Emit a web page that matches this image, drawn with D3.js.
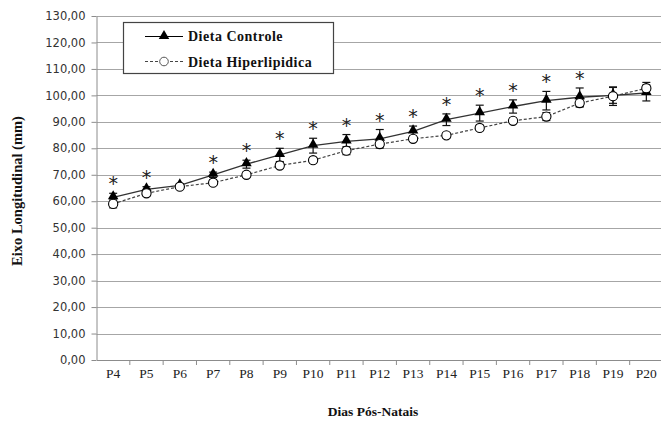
<!DOCTYPE html>
<html>
<head>
<meta charset="utf-8">
<script src="https://cdn.jsdelivr.net/npm/d3@7/dist/d3.min.js"></script>
<style>
  body { margin: 0; background: #fff; }
  svg { display: block; }
</style>
</head>
<body>
<svg></svg>
<script>
var dias = ["P4", "P5", "P6", "P7", "P8", "P9", "P10", "P11", "P12", "P13", "P14", "P15", "P16", "P17", "P18", "P19", "P20"];
var controle = [61.5, 64.5, 66, 70, 74, 77.5, 81, 82.6, 83.6, 86.4, 90.8, 93.3, 95.8, 98, 99.3, 100, 100.9];
var controleErr = [1.5, 1, 0.5, 1, 1.5, 2.5, 2.8, 2.6, 3.5, 2, 2.2, 3, 2.5, 3.5, 3.5, 3, 3];
var hiper = [59, 63, 65.5, 67, 70, 73.5, 75.5, 79.1, 81.6, 83.6, 84.9, 87.7, 90.4, 92, 97.1, 99.7, 102.7];
var hiperErr = [1.5, 1, 0.5, 1, 1, 1, 1, 1.5, 1, 1, 1, 1, 1, 1.5, 1.5, 3.5, 2.2];
var significativo = [true, true, false, true, true, true, true, true, true, true, true, true, true, true, true, false, false];
var yTicks = [0, 10, 20, 30, 40, 50, 60, 70, 80, 90, 100, 110, 120, 130];

var svgWidth = 661, svgHeight = 423;
var plotLeft = 96.5, plotRight = 663, plotTop = 16, plotBottom = 360;

var svg = d3.select("svg")
    .attr("width", svgWidth)
    .attr("height", svgHeight);

var x = d3.scaleBand()
    .domain(dias)
    .range([plotLeft, plotRight]);

var y = d3.scaleLinear()
    .domain([0, 130])
    .range([plotBottom, plotTop]);

var fmt = function(d) { return d3.format(".2f")(d).replace(".", ","); };

// gridlines
svg.append("g")
    .selectAll("line")
    .data(yTicks.slice(1))
    .enter()
    .append("line")
    .attr("x1", plotLeft)
    .attr("x2", svgWidth)
    .attr("y1", (d) => Math.round(y(d)) + 0.5)
    .attr("y2", (d) => Math.round(y(d)) + 0.5)
    .attr("stroke", "#a6a6a6")
    .attr("stroke-width", 1.2);

// y axis
var yAxis = svg.append("g")
    .attr("transform", "translate(" + plotLeft + ",0)")
    .call(d3.axisLeft(y).tickValues(yTicks).tickFormat(fmt).tickSize(5).tickSizeOuter(0));
yAxis.select(".domain").attr("stroke", "#8c8c8c");
yAxis.selectAll(".tick line").attr("stroke", "#8c8c8c");
yAxis.selectAll("text")
    .attr("font-family", "DejaVu Sans, Verdana, sans-serif")
    .attr("font-size", "11.5px")
    .attr("fill", "#333")
    .attr("x", -11);

// x axis
var xAxis = svg.append("g")
    .attr("transform", "translate(0," + plotBottom + ")")
    .call(d3.axisBottom(x).tickSize(0));
xAxis.select(".domain").attr("stroke", "#8c8c8c");
xAxis.selectAll("text")
    .attr("font-family", "Liberation Serif, Times New Roman, serif")
    .attr("font-size", "13.5px")
    .attr("fill", "#222")
    .attr("dy", "1.1em");
svg.append("g")
    .selectAll("line")
    .data(dias)
    .enter()
    .append("line")
    .attr("x1", (d) => x(d) + x.bandwidth())
    .attr("x2", (d) => x(d) + x.bandwidth())
    .attr("y1", plotBottom)
    .attr("y2", plotBottom + 5)
    .attr("stroke", "#8c8c8c");

var cx = (d, i) => x(dias[i]) + x.bandwidth() / 2;

// error bars
function errorBars(values, errs, color) {
  var g = svg.append("g").attr("stroke", color).attr("stroke-width", 1.2);
  values.forEach((v, i) => {
    var px = cx(v, i);
    g.append("line").attr("x1", px).attr("x2", px).attr("y1", y(v - errs[i])).attr("y2", y(v + errs[i]));
    g.append("line").attr("x1", px - 4).attr("x2", px + 4).attr("y1", y(v + errs[i])).attr("y2", y(v + errs[i]));
    g.append("line").attr("x1", px - 4).attr("x2", px + 4).attr("y1", y(v - errs[i])).attr("y2", y(v - errs[i]));
  });
}
errorBars(hiper, hiperErr, "#111");
errorBars(controle, controleErr, "#111");

var line = d3.line()
    .x((d, i) => cx(d, i))
    .y((d) => y(d));

svg.append("path")
    .datum(hiper)
    .attr("d", line)
    .attr("fill", "none")
    .attr("stroke", "#444")
    .attr("stroke-width", 1.2)
    .attr("stroke-dasharray", "3,2");

svg.append("path")
    .datum(controle)
    .attr("d", line)
    .attr("fill", "none")
    .attr("stroke", "#333")
    .attr("stroke-width", 1.3);

var tri = d3.symbol().type(d3.symbolTriangle).size(48);

svg.append("g")
    .selectAll("path")
    .data(controle)
    .enter()
    .append("path")
    .attr("d", tri)
    .attr("transform", (d, i) => "translate(" + cx(d, i) + "," + (y(d) - 1) + ")")
    .attr("fill", "#000");

svg.append("g")
    .selectAll("circle")
    .data(hiper)
    .enter()
    .append("circle")
    .attr("cx", cx)
    .attr("cy", (d) => y(d))
    .attr("r", 4.6)
    .attr("fill", "#fff")
    .attr("stroke", "#000")
    .attr("stroke-width", 1.1);

// asterisks
var astIdx = d3.range(dias.length).filter((i) => significativo[i]);
svg.append("g")
    .selectAll("text")
    .data(astIdx)
    .enter()
    .append("text")
    .text("*")
    .attr("x", (i) => cx(null, i))
    .attr("y", (i) => y(controle[i] + controleErr[i]) - 3)
    .attr("text-anchor", "middle")
    .attr("font-family", "DejaVu Sans, sans-serif")
    .attr("font-size", "19px")
    .attr("fill", "#222");

// legend
var legend = svg.append("g");
legend.append("rect")
    .attr("x", 123.5).attr("y", 22.5)
    .attr("width", 210).attr("height", 51)
    .attr("fill", "#fff").attr("stroke", "#444").attr("stroke-width", 1.2);
legend.append("line")
    .attr("x1", 145).attr("x2", 183).attr("y1", 36.5).attr("y2", 36.5)
    .attr("stroke", "#000").attr("stroke-width", 1.2);
legend.append("path")
    .attr("d", tri)
    .attr("transform", "translate(164,36)")
    .attr("fill", "#000");
legend.append("line")
    .attr("x1", 145).attr("x2", 183).attr("y1", 61.5).attr("y2", 61.5)
    .attr("stroke", "#444").attr("stroke-width", 1.1).attr("stroke-dasharray", "3,2");
legend.append("circle")
    .attr("cx", 164).attr("cy", 61.5).attr("r", 4.3)
    .attr("fill", "#fff").attr("stroke", "#555");
legend.selectAll("text")
    .data(["Dieta Controle", "Dieta Hiperlipidica"])
    .enter()
    .append("text")
    .text((d) => d)
    .attr("x", 188)
    .attr("y", (d, i) => 41 + i * 25.5)
    .attr("font-family", "Liberation Serif, Times New Roman, serif")
    .attr("font-weight", "bold")
    .attr("font-size", "14px")
    .attr("letter-spacing", "0.5px")
    .attr("fill", "#111");

// axis titles
svg.append("text")
    .text("Eixo Longitudinal  (mm)")
    .attr("transform", "translate(22,191) rotate(-90)")
    .attr("text-anchor", "middle")
    .attr("font-family", "Liberation Serif, Times New Roman, serif")
    .attr("font-weight", "bold")
    .attr("font-size", "14.5px")
    .attr("fill", "#111");

svg.append("text")
    .text("Dias Pós-Natais")
    .attr("x", 373)
    .attr("y", 416)
    .attr("text-anchor", "middle")
    .attr("font-family", "Liberation Serif, Times New Roman, serif")
    .attr("font-weight", "bold")
    .attr("font-size", "13.5px")
    .attr("fill", "#111");
</script>
</body>
</html>
